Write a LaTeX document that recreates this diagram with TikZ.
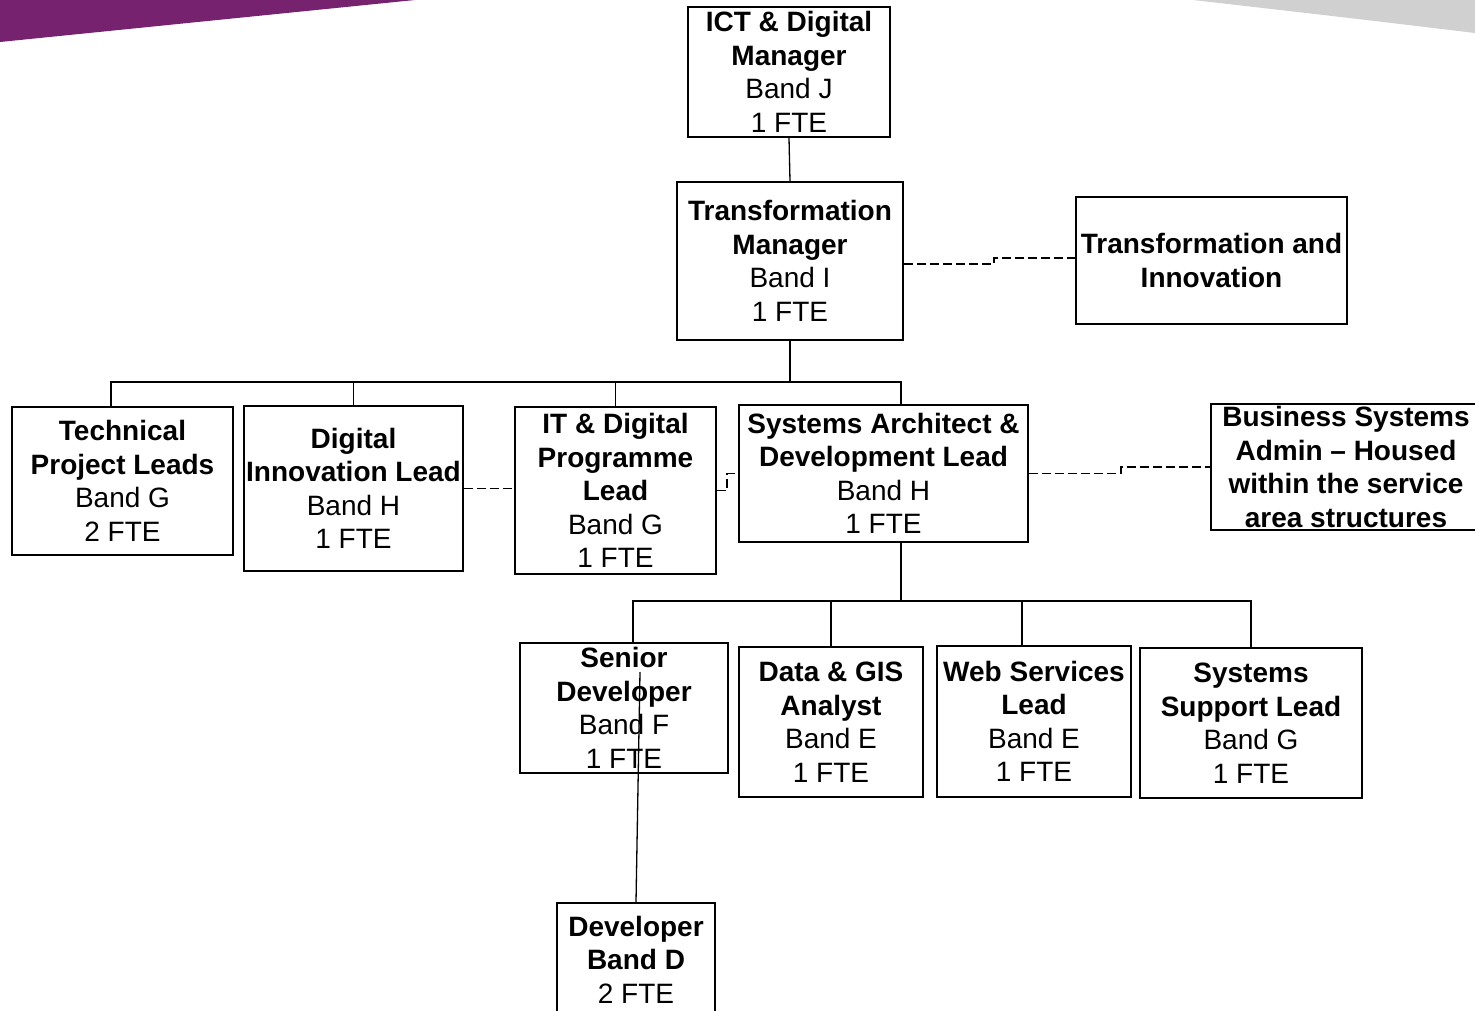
\documentclass[tikz,border=0pt]{standalone}
\usepackage{fontspec}
\setmainfont{Liberation Sans}
\usepackage{tikz}
\definecolor{brandpurple}{RGB}{119,34,111}
\definecolor{brandgrey}{RGB}{208,208,208}
\tikzset{
  post/.style={draw, line width=2pt, inner sep=0pt, align=center,
    font=\fontsize{28}{33.5}\selectfont},
  link/.style={line width=1.3pt},
  dotlink/.style={line width=1.3pt, dash pattern=on 9pt off 4pt},
}

\begin{document}
\begin{tikzpicture}[x=1pt, y=-1pt]

  \useasboundingbox (0,0) rectangle (1475,1010);

  % Corner bands
  \fill[brandpurple] (0,0) -- (415,0) -- (0,42) -- cycle;
  \fill[brandgrey] (1193,0) -- (1475,0) -- (1475,33) .. controls (1350,18) .. (1193,0);

  % Define nodes
  \node[post, minimum width=202, minimum height=130] (ictmgr) at (789,72)
    {\textbf{ICT \& Digital}\\\textbf{Manager}\\Band J\\1 FTE};
  \node[post, minimum width=226, minimum height=158] (transmgr) at (790,261)
    {\textbf{Transformation}\\\textbf{Manager}\\Band I\\1 FTE};
  \node[post, minimum width=271, minimum height=127] (transinno) at (1211.5,260.5)
    {\textbf{Transformation and}\\\textbf{Innovation}};
  \node[post, minimum width=221, minimum height=148] (techlead) at (122.5,481)
    {\textbf{Technical}\\\textbf{Project Leads}\\Band G\\2 FTE};
  \node[post, minimum width=219, minimum height=165] (diginno) at (353.5,488.5)
    {\textbf{Digital}\\\textbf{Innovation Lead}\\Band H\\1 FTE};
  \node[post, minimum width=201, minimum height=167] (itprog) at (615.5,490.5)
    {\textbf{IT \& Digital}\\\textbf{Programme}\\\textbf{Lead}\\Band G\\1 FTE};
  \node[post, minimum width=289, minimum height=137] (sysarch) at (883.5,473.5)
    {\textbf{Systems Architect \&}\\\textbf{Development Lead}\\Band H\\1 FTE};
  \node[post, minimum width=270, minimum height=126] (bizsys) at (1346,467)
    {\textbf{Business Systems}\\\textbf{Admin – Housed}\\\textbf{within the service}\\\textbf{area structures}};
  \node[post, minimum width=208, minimum height=130] (seniordev) at (624,708)
    {\textbf{Senior}\\\textbf{Developer}\\Band F\\1 FTE};
  \node[post, minimum width=184, minimum height=150] (datagis) at (831,722)
    {\textbf{Data \& GIS}\\\textbf{Analyst}\\Band E\\1 FTE};
  \node[post, minimum width=194, minimum height=151] (websvc) at (1034,721.5)
    {\textbf{Web Services}\\\textbf{Lead}\\Band E\\1 FTE};
  \node[post, minimum width=222, minimum height=150] (syssupp) at (1251,723)
    {\textbf{Systems}\\\textbf{Support Lead}\\Band G\\1 FTE};
  \node[post, minimum width=158, minimum height=113] (dev) at (636,959.5)
    {\textbf{Developer}\\\textbf{Band D}\\2 FTE};

  \coordinate (topbus) at (790,382);
  \coordinate (subbus) at (901,601);
  \coordinate (sdlink) at (640,672);

  % Connect the nodes
  \draw[link] (ictmgr.south) -- (transmgr.north);
  \draw[link] (transmgr.south) -- (topbus);
  \draw[link] ([xshift=-11.5pt]techlead.north) |- (topbus);
  \draw[link] (diginno.north) |- (topbus);
  \draw[link] (itprog.north) |- (topbus);
  \draw[link] ([xshift=17.5pt]sysarch.north) |- (topbus);

  \draw[link] ([xshift=17.5pt]sysarch.south) -- (subbus);
  \draw[link] ([xshift=9pt]seniordev.north) |- (subbus);
  \draw[link] (datagis.north) |- (subbus);
  \draw[link] ([xshift=-12pt]websvc.north) |- (subbus);
  \draw[link] (syssupp.north) |- (subbus);

  \draw[link] (sdlink) -- (dev.north);

  \draw[dotlink] ([yshift=-3pt]transmgr.east) -- ++(90,0) |- ([yshift=2.5pt]transinno.west);
  \draw[dotlink] (diginno.east) -- (diginno.east -| itprog.west);
  \draw[dotlink] (itprog.east) -- ++(10,0) |- (sysarch.west);
  \draw[dotlink] (sysarch.east) -- ++(92,0) |- (bizsys.west);

\end{tikzpicture}
\end{document}
